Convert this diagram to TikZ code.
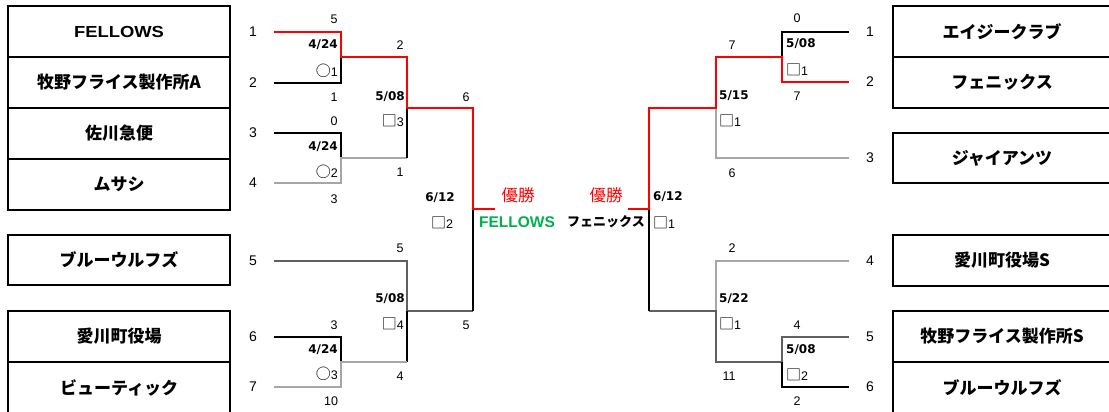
\documentclass[tikz,border=0pt]{standalone}
\usepackage{fontspec}
\setmainfont{Liberation Sans}
\newfontfamily\jp{Noto Sans CJK JP}
\newfontfamily\dv{DejaVu Sans}
\newfontfamily\latw{Liberation Sans}[FakeStretch=1.15]
\definecolor{dgray}{HTML}{606060}
\definecolor{lgray}{HTML}{A6A6A6}
\definecolor{wgreen}{HTML}{00B050}
\begin{document}
\begin{tikzpicture}[x=1pt,y=-1pt,
  namebox/.style={draw,line width=2pt,minimum width=222pt,minimum height=51pt,inner sep=0pt,font=\jp\bfseries\fontsize{17}{19}\selectfont},
  rnamebox/.style={namebox,minimum width=218pt},
  tnum/.style={font=\fontsize{14}{16}\selectfont,inner sep=0pt},
  sc/.style={font=\fontsize{12.5}{14}\selectfont,inner sep=0pt},
  dt/.style={font=\dv\bfseries\fontsize{12}{14}\selectfont,inner sep=0pt},
  mk/.style={font=\fontsize{12.5}{14}\selectfont,inner sep=0pt},
  win/.style={font=\jp\fontsize{16.5}{18}\selectfont,text=red,inner sep=0pt},
  fin/.style={font=\jp\bfseries\fontsize{13}{15}\selectfont,inner sep=0pt},
  redl/.style={draw=red,line width=2.6pt},
  blkl/.style={draw=black,line width=2pt},
  dgl/.style={draw=dgray,line width=2.6pt},
  lgl/.style={draw=lgray,line width=2.6pt}]
\newcommand\circm{{\jp\fontsize{15}{15}\selectfont ○}}
\newcommand\sqm{{\jp\fontsize{15}{15}\selectfont □}}
\useasboundingbox (0,0) rectangle (1109,412);
% left name boxes
\node[namebox] (b1) at (119,31.5) {\latw\bfseries\fontsize{16}{18}\selectfont FELLOWS};
\node[namebox] (b2) at (119,82.5) {牧野フライス製作所A};
\node[namebox] (b3) at (119,133.5) {佐川急便};
\node[namebox] (b4) at (119,184.5) {ムサシ};
\node[namebox,minimum height=50pt] (b5) at (119,260) {ブルーウルフズ};
\node[namebox] (b6) at (119,336.5) {愛川町役場};
\node[namebox] (b7) at (119,387.5) {ビューティック};
% right name boxes
\node[rnamebox] (r1) at (1002,31.5) {エイジークラブ};
\node[rnamebox] (r2) at (1002,82.5) {フェニックス};
\node[rnamebox,minimum height=50pt] (r3) at (1002,158) {ジャイアンツ};
\node[rnamebox] (r4) at (1002,260.5) {愛川町役場S};
\node[rnamebox] (r5) at (1002,336.5) {牧野フライス製作所S};
\node[rnamebox] (r6) at (1002,387.5) {ブルーウルフズ};
% team numbers
\foreach \n/\y in {1/32,2/83,3/133,4/183,5/261,6/337,7/387}{\node[tnum] (ln\n) at (253,\y) {\n};}
\foreach \n/\y in {1/32,2/82,3/158,4/261,5/337,6/387}{\node[tnum] (rn\n) at (870,\y) {\n};}
% left coordinates
\coordinate (a1) at (274,32); \coordinate (a1c) at (341,32);
\coordinate (a2) at (274,83); \coordinate (a2c) at (341,83);
\coordinate (m12) at (341,57); \coordinate (m12e) at (407,57);
\coordinate (a3) at (274,133); \coordinate (a3c) at (341,133);
\coordinate (a4) at (274,183); \coordinate (a4c) at (341,183);
\coordinate (m34) at (341,158); \coordinate (m34e) at (407,158);
\coordinate (s1) at (407,108); \coordinate (s1e) at (473,108);
\coordinate (a5) at (274,261); \coordinate (a5c) at (407,261);
\coordinate (a6) at (274,337); \coordinate (a6c) at (341,337);
\coordinate (a7) at (274,387); \coordinate (a7c) at (341,387);
\coordinate (m67) at (341,362); \coordinate (m67e) at (407,362);
\coordinate (s2) at (407,311); \coordinate (s2e) at (473,311);
\coordinate (fl) at (473,209); \coordinate (fle) at (495,209);
% left lines
\draw[blkl] (a2) -- (a2c) -- (m12);
\draw[blkl] (a3) -- (a3c) -- (m34);
\draw[lgl] (a4) -- (a4c) -- (m34) -- (m34e);
\draw[blkl] (s1) -- (m34e);
\draw[dgl] (a5) -- (a5c) -- (s2) -- (s2e);
\draw[blkl] (s2) -- (m67e);
\draw[blkl] (a6) -- (a6c) -- (m67);
\draw[lgl] (a7) -- (a7c) -- (m67) -- (m67e);
\draw[blkl] (s2e) -- (fl);
\draw[redl] (a1) -- (a1c) -- (m12) -- (m12e) -- (s1) -- (s1e) -- (fl) -- (fle);
% right coordinates
\coordinate (b1s) at (849,32); \coordinate (b1c) at (782,32);
\coordinate (b2s) at (849,82); \coordinate (b2c) at (782,82);
\coordinate (n12) at (782,57); \coordinate (n12e) at (716,57);
\coordinate (t1) at (716,108); \coordinate (t1e) at (649,108);
\coordinate (b3s) at (849,158); \coordinate (b3c) at (716,158);
\coordinate (b4s) at (849,261); \coordinate (b4c) at (716,261);
\coordinate (t2) at (716,311); \coordinate (t2e) at (649,311);
\coordinate (b5s) at (849,337); \coordinate (b5c) at (782,337);
\coordinate (b6s) at (849,387); \coordinate (b6c) at (782,387);
\coordinate (n56) at (782,362); \coordinate (n56e) at (716,362);
\coordinate (fr) at (649,209); \coordinate (fre) at (628,209);
% right lines
\draw[blkl] (b1s) -- (b1c) -- (n12);
\draw[lgl] (b3s) -- (b3c) -- (t1);
\draw[lgl] (b4s) -- (b4c) -- (t2);
\draw[dgl] (b5s) -- (b5c) -- (n56) -- (n56e) -- (t2) -- (t2e);
\draw[blkl] (b6s) -- (b6c) -- (n56);
\draw[blkl] (t2e) -- (fr);
\draw[redl] (b2s) -- (b2c) -- (n12) -- (n12e) -- (t1) -- (t1e) -- (fr) -- (fre);
% left labels
\node[sc] at (334,19) {5};
\node[dt,anchor=east] at (338,45) {4/24};
\node[mk,anchor=east] at (338,71) {\circm1};
\node[sc] at (334,97) {1};
\node[sc] at (400,45) {2};
\node[dt,anchor=east] at (405,97) {5/08};
\node[mk,anchor=east] at (404,121) {\sqm3};
\node[sc] at (334,121) {0};
\node[dt,anchor=east] at (338,147) {4/24};
\node[mk,anchor=east] at (338,172) {\circm2};
\node[sc] at (334,199) {3};
\node[sc] at (400,172) {1};
\node[sc] at (466,97) {6};
\node[dt] at (440,198) {6/12};
\node[mk] at (442,223) {\sqm2};
\node[sc] at (400,248) {5};
\node[dt,anchor=east] at (405,299) {5/08};
\node[mk,anchor=east] at (404,324) {\sqm4};
\node[sc] at (466,325) {5};
\node[sc] at (334,325) {3};
\node[dt,anchor=east] at (338,350) {4/24};
\node[mk,anchor=east] at (338,374) {\circm3};
\node[sc] at (400,376) {4};
\node[sc] at (331,401) {10};
% final
\node[win] at (518,195) {優勝};
\node[fin,font=\bfseries\fontsize{15.5}{17}\selectfont,text=wgreen] at (517,222) {FELLOWS};
\node[win] at (606,195) {優勝};
\node[fin] at (606,222) {フェニックス};
% right labels
\node[sc] at (797,18) {0};
\node[dt,anchor=west] at (786,44) {5/08};
\node[mk,anchor=west] at (786,70) {\sqm1};
\node[sc] at (797,96) {7};
\node[sc] at (732,45) {7};
\node[dt,anchor=west] at (719,96) {5/15};
\node[mk,anchor=west] at (719,121) {\sqm1};
\node[sc] at (732,173) {6};
\node[dt,anchor=west] at (653,197) {6/12};
\node[mk,anchor=west] at (653,223) {\sqm1};
\node[sc] at (732,248) {2};
\node[dt,anchor=west] at (719,299) {5/22};
\node[mk,anchor=west] at (719,324) {\sqm1};
\node[sc] at (797,325) {4};
\node[dt,anchor=west] at (786,350) {5/08};
\node[mk,anchor=west] at (786,375) {\sqm2};
\node[sc] at (729,376) {11};
\node[sc] at (797,401) {2};
\end{tikzpicture}
\end{document}
